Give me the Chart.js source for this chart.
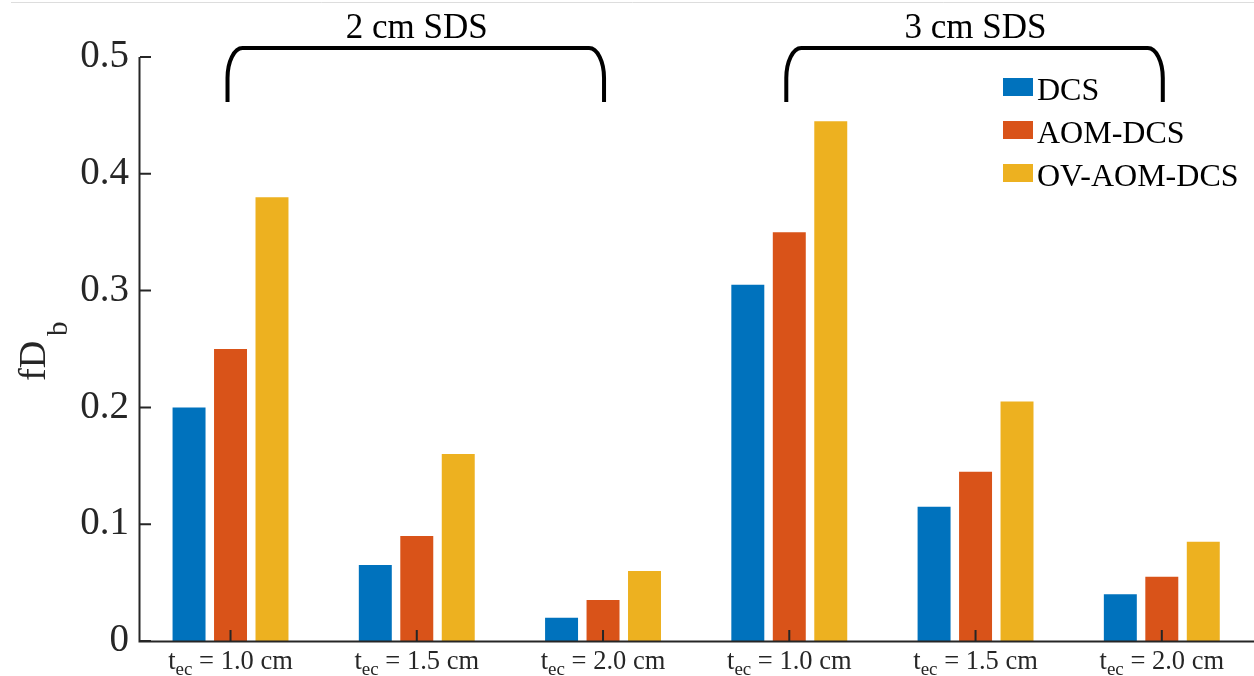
<!DOCTYPE html>
<html><head><meta charset="utf-8">
<script src="https://cdn.jsdelivr.net/npm/chart.js@4"></script>
<style>html,body{margin:0;padding:0;background:#fff;overflow:hidden}
#wrap{position:relative;width:1254px;height:676px}</style>
</head><body><div id="wrap"><canvas id="c" width="1254" height="676"></canvas></div>
<script>
const categories = [1, 2, 3, 4, 5, 6];
const xTickLabels = ['1.0 cm', '1.5 cm', '2.0 cm', '1.0 cm', '1.5 cm', '2.0 cm'];
const seriesNames = ['DCS', 'AOM-DCS', 'OV-AOM-DCS'];
const dcs = [0.20, 0.065, 0.02, 0.305, 0.115, 0.04];
const aomDcs = [0.25, 0.09, 0.035, 0.35, 0.145, 0.055];
const ovAomDcs = [0.38, 0.16, 0.06, 0.445, 0.205, 0.085];
const yTickLabels = ['0', '0.1', '0.2', '0.3', '0.4', '0.5'];
const groupTitles = ['2 cm SDS', '3 cm SDS'];
const groupSpans = [[1, 3], [4, 6]];
const colors = ['#0072BD', '#D95319', '#EDB120'];

const SERIF = '"Liberation Serif", "Times New Roman", serif';
const AX = '#262626';

const seriesValues = [dcs, aomDcs, ovAomDcs];
const datasets = seriesValues.map((vals, k) => ({
  label: seriesNames[k],
  data: vals.map((v, i) => ({ x: categories[i], y: v })),
  backgroundColor: colors[k],
  borderWidth: 0,
  categoryPercentage: 0.668,
  barPercentage: 0.795
}));

const deco = {
  id: 'deco',
  afterDraw(chart) {
    const ctx = chart.ctx;
    const xs = chart.scales.x, ys = chart.scales.y;
    const ca = chart.chartArea;
    const y0 = ys.getPixelForValue(0), yTop = ys.getPixelForValue(0.5);
    ctx.save();
    ctx.strokeStyle = '#dddddd'; ctx.lineWidth = 1;
    ctx.beginPath(); ctx.moveTo(11, 2.5); ctx.lineTo(1254, 2.5); ctx.stroke();
    ctx.strokeStyle = AX; ctx.lineWidth = 2;
    ctx.beginPath();
    ctx.moveTo(ca.left - 0.5, yTop); ctx.lineTo(ca.left - 0.5, y0 + 1);
    ctx.moveTo(ca.left - 1.5, y0 + 0.5); ctx.lineTo(1254, y0 + 0.5);
    ctx.stroke();
    ctx.beginPath();
    ys.ticks.forEach(t => {
      const p = ys.getPixelForValue(t.value);
      ctx.moveTo(ca.left, p); ctx.lineTo(ca.left + 11, p);
    });
    categories.forEach(c => {
      const p = xs.getPixelForValue(c);
      ctx.moveTo(p, y0); ctx.lineTo(p, y0 - 11);
    });
    ctx.stroke();
    ctx.fillStyle = AX;
    ctx.textBaseline = 'alphabetic'; ctx.textAlign = 'left';
    const mainF = '26.5px ' + SERIF, subF = '19px ' + SERIF;
    categories.forEach((c, i) => {
      const p = xs.getPixelForValue(c);
      ctx.font = mainF; const wT = ctx.measureText('t').width;
      const rest = ' = ' + xTickLabels[i];
      const wR = ctx.measureText(rest).width;
      ctx.font = subF; const wS = ctx.measureText('ec').width;
      const total = wT + wS + wR;
      let x = p - total / 2;
      const base = 669;
      ctx.font = mainF; ctx.fillText('t', x, base); x += wT;
      ctx.font = subF; ctx.fillText('ec', x, base + 6); x += wS;
      ctx.font = mainF; ctx.fillText(rest, x, base);
    });
    ctx.save();
    ctx.translate(45, 381); ctx.rotate(-Math.PI / 2);
    ctx.font = '38px ' + SERIF; ctx.fillText('fD', 0, 0);
    const wfD = ctx.measureText('fD').width;
    ctx.font = '29px ' + SERIF; ctx.fillText('b', wfD + 5, 22);
    ctx.restore();
    ctx.strokeStyle = '#000'; ctx.lineWidth = 4;
    groupSpans.forEach((sp, g) => {
      const xl = xs.getPixelForValue(sp[0]) - 3, xr = xs.getPixelForValue(sp[1]) + 1;
      const yl = 48, yb = 102, rx = 15, ry = 30;
      ctx.beginPath();
      ctx.moveTo(xl, yb); ctx.lineTo(xl, yl + ry);
      ctx.ellipse(xl + rx, yl + ry, rx, ry, 0, Math.PI, 1.5 * Math.PI);
      ctx.lineTo(xr - rx, yl);
      ctx.ellipse(xr - rx, yl + ry, rx, ry, 0, 1.5 * Math.PI, 2 * Math.PI);
      ctx.lineTo(xr, yb);
      ctx.stroke();
      const mid = xs.getPixelForValue((sp[0] + sp[1]) / 2);
      ctx.fillStyle = '#000'; ctx.font = '35px ' + SERIF; ctx.textAlign = 'center';
      ctx.fillText(groupTitles[g], mid, 38);
    });
    ctx.textAlign = 'left'; ctx.font = '32px ' + SERIF;
    seriesNames.forEach((n, k) => {
      const top = 78 + k * 43;
      ctx.fillStyle = colors[k];
      ctx.fillRect(1003, top, 30, 18);
      ctx.fillStyle = '#000';
      ctx.fillText(n, 1037, top + 22);
    });
    ctx.restore();
  }
};

new Chart(document.getElementById('c'), {
  type: 'bar',
  data: { datasets },
  options: {
    responsive: false,
    animation: false,
    layout: { padding: { left: 0, right: 0, top: 57, bottom: 35 } },
    plugins: { legend: { display: false }, tooltip: { enabled: false } },
    scales: {
      x: {
        type: 'linear', min: 0.514, max: 6.495, offset: false, display: false,
        afterBuildTicks(s) { s.ticks = categories.map(v => ({ value: v })); }
      },
      y: {
        min: 0, max: 0.5,
        afterFit(s) { s.width = 140; },
        grid: { display: false, drawTicks: false },
        border: { display: false },
        ticks: {
          stepSize: 0.1, padding: 11, color: AX,
          font: { family: SERIF, size: 39 },
          callback: (v, i) => yTickLabels[i]
        }
      }
    }
  },
  plugins: [deco]
});
</script></body></html>
